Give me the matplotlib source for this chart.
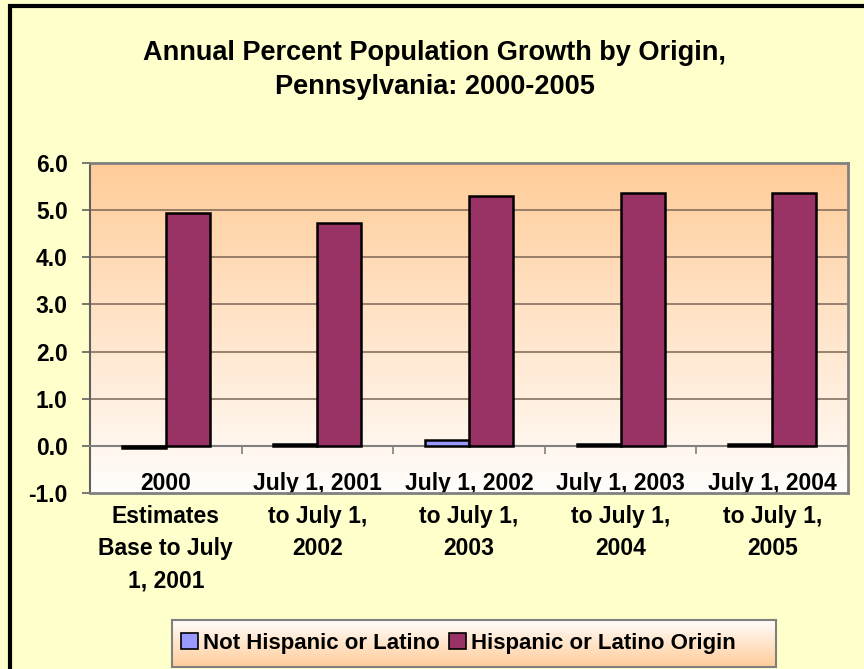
import numpy as np
import matplotlib.pyplot as plt
from matplotlib.patches import Rectangle, Patch

plt.rcParams['font.family'] = ['Liberation Sans', 'DejaVu Sans']
plt.rcParams['font.weight'] = 'bold'

categories = ["2000\nEstimates\nBase to July\n1, 2001",
              "July 1, 2001\nto July 1,\n2002",
              "July 1, 2002\nto July 1,\n2003",
              "July 1, 2003\nto July 1,\n2004",
              "July 1, 2004\nto July 1,\n2005"]
not_hispanic = [-0.04, 0.03, 0.13, 0.03, 0.03]
hispanic = [4.95, 4.73, 5.29, 5.37, 5.37]
yticks = [-1, 0, 1, 2, 3, 4, 5, 6]

W, H = 864, 669
fig = plt.figure(figsize=(W / 100, H / 100), dpi=100, facecolor="#FFFFCC")

# outer black frame (cropped on the right and bottom)
fig.patches.append(Rectangle((10 / W, -0.05), 1.2, 1 - 6 / H + 0.05,
                             transform=fig.transFigure, fill=False,
                             ec="black", lw=3))

ax = fig.add_axes([90 / W, 1 - 493 / H, (848 - 90) / W, (493 - 163) / H])
ax.set_xlim(-0.5, 4.5)
ax.set_ylim(-1, 6)

# gradient background of plot area
grad = np.linspace(0, 1, 256).reshape(-1, 1)
top = np.array([255, 204, 153]) / 255.
bot = np.array([255, 253, 251]) / 255.
img = bot + (top - bot) * grad
ax.imshow(img[:, None, :].repeat(2, axis=1), extent=(-0.5, 4.5, -1, 6),
          origin="lower", aspect="auto", zorder=0)

X = np.arange(len(categories))
bw = 0.29
ax.bar(X - bw / 2, not_hispanic, bw, color="#9999FF", ec="black", lw=1.8,
       zorder=3, label="Not Hispanic or Latino")
ax.bar(X + bw / 2, hispanic, bw, color="#993366", ec="black", lw=1.8,
       zorder=3, label="Hispanic or Latino Origin")

for y in range(1, 6):
    ax.axhline(y, color="#7a6656", lw=1.1, zorder=1)
ax.axhline(-1, color="#808080", lw=2, zorder=4, clip_on=False)

for s in ["top", "right"]:
    ax.spines[s].set_color("#808080")
    ax.spines[s].set_linewidth(2)
ax.spines["left"].set_color("#606060")
ax.spines["left"].set_linewidth(1.5)
ax.spines["bottom"].set_position(("data", 0))
ax.spines["bottom"].set_color("#808080")
ax.spines["bottom"].set_linewidth(1.5)

ax.set_yticks(yticks)
ax.set_yticklabels(["%.1f" % v for v in yticks], fontsize=16.5, fontweight="bold")
ax.tick_params(axis="y", direction="out", length=6, width=1.2,
               color="#606060", pad=10)

ax.set_xticks(np.arange(-0.5, 5, 1))
ax.set_xticklabels([])
ax.set_xticks(X, minor=True)
ax.set_xticklabels(categories, minor=True, fontsize=16.5, fontweight="bold",
                   linespacing=1.52, va="top")
ax.tick_params(axis="x", which="major", direction="out", length=6,
               width=1.2, color="#808080")
ax.tick_params(axis="x", which="minor", length=0, pad=19)

fig.text(0.503, 1 - 40 / H, "Annual Percent Population Growth by Origin,\n"
         "Pennsylvania: 2000-2005", ha="center", va="top",
         fontsize=19.5, fontweight="bold", linespacing=1.42)

# legend box with gradient
lx0, lx1, ly0, ly1 = 172 / W, 776 / W, 1 - 667 / H, 1 - 620 / H
lax = fig.add_axes([lx0, ly0, lx1 - lx0, ly1 - ly0])
lax.imshow(img[:, None, :].repeat(2, axis=1), aspect="auto",
           extent=(0, 1, 0, 1), origin="upper")
lax.set_xticks([])
lax.set_yticks([])
for s in lax.spines.values():
    s.set_color("#808080")
    s.set_linewidth(1.5)
handles = [Patch(fc="#9999FF", ec="black", lw=1.2, label="Not Hispanic or Latino"),
           Patch(fc="#993366", ec="black", lw=1.2, label="Hispanic or Latino Origin")]
lax.legend(handles=handles, loc="center left", bbox_to_anchor=(9 / 604, 0.5),
           ncol=2, frameon=False, prop={"weight": "bold", "size": 16},
           handlelength=0.75, handleheight=0.75, handletextpad=0.25,
           columnspacing=0.4, borderpad=0, borderaxespad=0)

fig.savefig("out.png", dpi=100, facecolor=fig.get_facecolor())
